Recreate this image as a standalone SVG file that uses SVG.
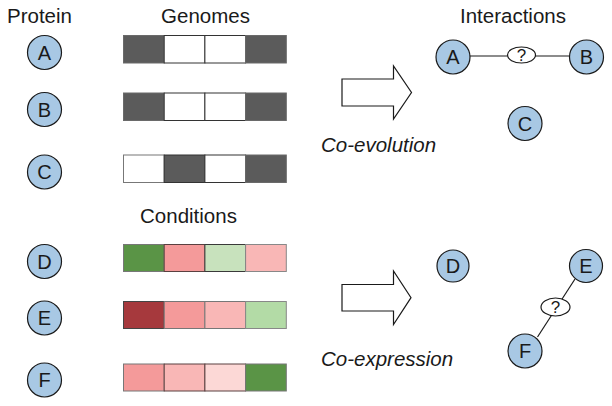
<svg xmlns="http://www.w3.org/2000/svg" width="612" height="406" viewBox="0 0 612 406">
<style>
  text { font-family: "Liberation Sans", Arial, sans-serif; fill: #1a1a1a; }
  .title { font-size: 20.5px; }
  .ital { font-size: 20.5px; font-style: italic; }
  .node circle { fill: #a8c8e4; stroke: #1a1a1a; stroke-width: 1.2; }
  .node text { font-size: 20px; text-anchor: middle; }
  .cell { stroke: #4a4a4a; stroke-width: 1; }
  .dk { fill: #5b5b5b; stroke: #6a6a6a; }
  .wh { fill: #ffffff; stroke: #333333; }
  .arrow { fill: #ffffff; stroke: #1a1a1a; stroke-width: 1.2; }
  .edge { stroke: #1a1a1a; stroke-width: 1.2; fill: none; }
  .q { fill: #ffffff; stroke: #1a1a1a; stroke-width: 1.2; }
  .qt { font-size: 17px; text-anchor: middle; }
</style>

<text class="title" x="7" y="23">Protein</text>
<text class="title" x="205.5" y="23" text-anchor="middle">Genomes</text>
<text class="title" x="513" y="23" text-anchor="middle">Interactions</text>
<text class="title" x="188.5" y="223" text-anchor="middle">Conditions</text>
<text class="ital" x="321" y="152">Co-evolution</text>
<text class="ital" x="321" y="366">Co-expression</text>

<!-- left protein nodes -->
<g id="pA" class="node"><circle cx="44.5" cy="52.5" r="17"/><text x="44.5" y="59.7">A</text></g>
<g id="pB" class="node"><circle cx="44.5" cy="109.5" r="17"/><text x="44.5" y="116.7">B</text></g>
<g id="pC" class="node"><circle cx="44.5" cy="172" r="17"/><text x="44.5" y="179.2">C</text></g>
<g id="pD" class="node"><circle cx="44.5" cy="261.5" r="17"/><text x="44.5" y="268.7">D</text></g>
<g id="pE" class="node"><circle cx="44.5" cy="318" r="17"/><text x="44.5" y="325.2">E</text></g>
<g id="pF" class="node"><circle cx="44.5" cy="380" r="17"/><text x="44.5" y="387.2">F</text></g>

<!-- genome bars -->
<g id="genomeA">
  <rect class="cell dk" x="123.5" y="35.5" width="40.7" height="27.5"/>
  <rect class="cell wh" x="164.2" y="35.5" width="40.7" height="27.5"/>
  <rect class="cell wh" x="204.9" y="35.5" width="40.7" height="27.5"/>
  <rect class="cell dk" x="245.6" y="35.5" width="40.7" height="27.5"/>
</g>
<g id="genomeB">
  <rect class="cell dk" x="123.5" y="93" width="40.7" height="27.5"/>
  <rect class="cell wh" x="164.2" y="93" width="40.7" height="27.5"/>
  <rect class="cell wh" x="204.9" y="93" width="40.7" height="27.5"/>
  <rect class="cell dk" x="245.6" y="93" width="40.7" height="27.5"/>
</g>
<g id="genomeC">
  <rect class="cell wh" x="123.5" y="155" width="40.7" height="27.5" style="stroke:#777"/>
  <rect class="cell dk" x="164.2" y="155" width="40.7" height="27.5" style="stroke:#333"/>
  <rect class="cell wh" x="204.9" y="155" width="40.7" height="27.5"/>
  <rect class="cell dk" x="245.6" y="155" width="40.7" height="27.5"/>
</g>

<!-- condition bars -->
<g id="condD">
  <rect class="cell" x="123.5" y="244.5" width="40.7" height="27" fill="#5a9446" style="stroke:#777"/>
  <rect class="cell" x="164.2" y="244.5" width="40.7" height="27" fill="#f49a9a" style="stroke:#5a4040"/>
  <rect class="cell" x="204.9" y="244.5" width="40.7" height="27" fill="#c8e2bd" style="stroke:#3a3a3a"/>
  <rect class="cell" x="245.6" y="244.5" width="40.7" height="27" fill="#f9b7b6" style="stroke:#888"/>
</g>
<g id="condE">
  <rect class="cell" x="123.5" y="301.5" width="40.7" height="27" fill="#a6393d" style="stroke:#444"/>
  <rect class="cell" x="164.2" y="301.5" width="40.7" height="27" fill="#f49a9a" style="stroke:#777"/>
  <rect class="cell" x="204.9" y="301.5" width="40.7" height="27" fill="#f9b7b6" style="stroke:#777"/>
  <rect class="cell" x="245.6" y="301.5" width="40.7" height="27" fill="#b3dba6" style="stroke:#888"/>
</g>
<g id="condF">
  <rect class="cell" x="123.5" y="364" width="40.7" height="27" fill="#f49a9a" style="stroke:#777"/>
  <rect class="cell" x="164.2" y="364" width="40.7" height="27" fill="#f9b7b6" style="stroke:#5a4040"/>
  <rect class="cell" x="204.9" y="364" width="40.7" height="27" fill="#fcd8d6" style="stroke:#5a4040"/>
  <rect class="cell" x="245.6" y="364" width="40.7" height="27" fill="#5a9446" style="stroke:#777"/>
</g>

<!-- block arrows -->
<polygon id="arrow1" class="arrow" points="342,79 393.5,79 393.5,66 411.5,92.5 393.5,119 393.5,106 342,106"/>
<polygon id="arrow2" class="arrow" points="342,284.5 393.5,284.5 393.5,271 411,297.7 393.5,324.5 393.5,311 342,311"/>

<!-- connectors -->
<g id="connectors">
  <line class="edge" x1="470" y1="56" x2="569.5" y2="56"/>
  <line class="edge" x1="575" y1="279" x2="537.5" y2="337"/>
</g>

<g id="qAB"><ellipse class="q" cx="521.5" cy="55" rx="14" ry="8"/><text class="qt" x="521.5" y="61">?</text></g>
<g id="qEF"><ellipse class="q" cx="555.5" cy="307" rx="14.5" ry="9"/><text class="qt" x="555.5" y="313">?</text></g>

<!-- interaction nodes -->
<g id="iA" class="node"><circle cx="453" cy="57" r="17"/><text x="453" y="64.2">A</text></g>
<g id="iB" class="node"><circle cx="586.5" cy="57" r="17"/><text x="586.5" y="64.2">B</text></g>
<g id="iC" class="node"><circle cx="525" cy="123.5" r="17"/><text x="525" y="130.7">C</text></g>
<g id="iD" class="node"><circle cx="453" cy="266" r="16"/><text x="453" y="273.2">D</text></g>
<g id="iE" class="node"><circle cx="586" cy="266" r="16.5"/><text x="586" y="273.2">E</text></g>
<g id="iF" class="node"><circle cx="525" cy="351" r="17"/><text x="525" y="358.2">F</text></g>
</svg>
